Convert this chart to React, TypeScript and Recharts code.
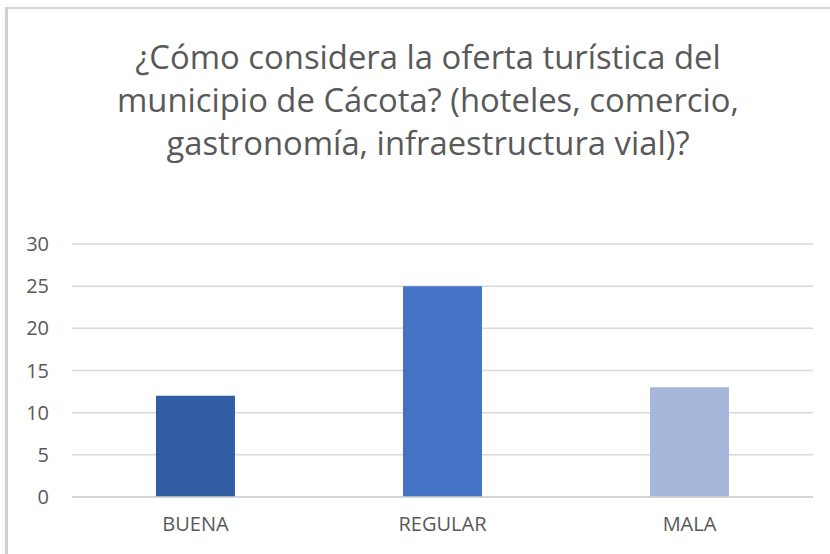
import React from 'react';
import { BarChart, Bar, XAxis, YAxis, CartesianGrid, Cell } from 'recharts';

const categories = ['BUENA', 'REGULAR', 'MALA'];
const counts = [12, 25, 13];
const barColors = ['#335DA3', '#4472C4', '#A7B6DB'];
const yTicks = [0, 5, 10, 15, 20, 25, 30];
const titleLines = [
    '¿Cómo considera la oferta turística del',
    'municipio de Cácota? (hoteles, comercio,',
    'gastronomía, infraestructura vial)?',
];

const data = categories.map((name, i) => ({ name, value: counts[i] }));

const font = '"Open Sans", sans-serif';

export default function App() {
    return (
        <div style={{ position: 'relative', left: -8, top: -8, width: 830, height: 554, overflow: 'hidden', background: '#fff' }}>
            <div
                style={{
                    position: 'absolute', left: 0, top: 35, width: 856, textAlign: 'center',
                    fontFamily: font, fontSize: 32.8, lineHeight: '43px', color: '#595959',
                }}
            >
                {titleLines.map((l) => (
                    <div key={l}>{l}</div>
                ))}
            </div>
            <div style={{ position: 'absolute', left: 0, top: 0 }}>
                <BarChart width={830} height={554} data={data} margin={{ top: 244, right: 17, bottom: 0, left: 12 }} barCategoryGap="34%">
                    <CartesianGrid vertical={false} stroke="#d9d9d9" strokeWidth={1.5} />
                    <XAxis
                        dataKey="name"
                        height={57}
                        tickLine={false}
                        tickSize={0}
                        tickMargin={20}
                        axisLine={{ stroke: '#d0d0d0', strokeWidth: 1.5 }}
                        tick={{ fill: '#595959', fontSize: 20, fontFamily: font }}
                    />
                    <YAxis
                        width={60}
                        domain={[0, 30]}
                        ticks={yTicks}
                        axisLine={false}
                        tickLine={false}
                        tickSize={0}
                        tickMargin={23}
                        tick={{ fill: '#595959', fontSize: 20, fontFamily: font }}
                    />
                    <Bar dataKey="value" isAnimationActive={false}>
                        {data.map((d, i) => (
                            <Cell key={d.name} fill={barColors[i]} />
                        ))}
                    </Bar>
                </BarChart>
            </div>
            {/* chart frame, fixed to the viewport */}
            <div style={{ position: 'fixed', left: 5, top: 7, width: 3, height: 560, background: '#d0d0d0', pointerEvents: 'none' }} />
            <div style={{ position: 'fixed', left: 5, top: 7, width: 830, height: 2, background: '#d6d6d6', pointerEvents: 'none' }} />
        </div>
    );
}
